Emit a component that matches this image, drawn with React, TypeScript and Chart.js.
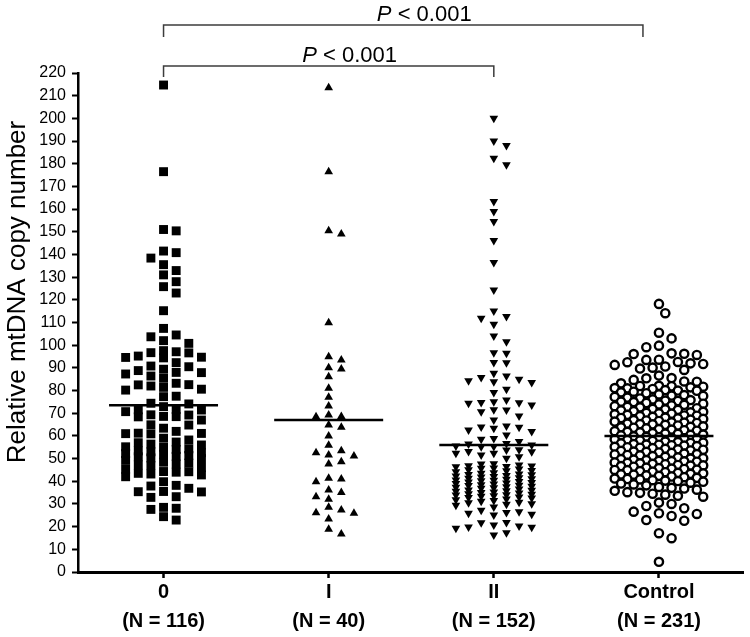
import React, { useEffect, useRef } from "react";
import { Chart, registerables } from "chart.js";
Chart.register(...registerables);

// ---------- data ----------
const categories = ["0", "I", "II", "Control"];
const groupSizes = ["(N = 116)", "(N = 40)", "(N = 152)", "(N = 231)"];
const yTitle = "Relative mtDNA copy number";
const medians = [73.5, 67.0, 56.0, 60.0];
const bracketFrom = [0, 0];
const bracketTo = [2, 3];
const bracketText = ["P < 0.001", "P < 0.001"];

const group0 = [
  214.7, 176.5, 151.0, 150.4, 141.5, 140.8, 138.4, 135.5, 132.9, 131.0, 128.0, 125.8, 123.0, 115.2, 107.4, 104.5, 103.7, 102.0, 100.8,
  97.6, 97.1, 96.7, 96.6, 95.2, 94.6, 94.7, 94.4, 92.3,
  90.8, 90.5, 89.4, 88.8, 87.9, 88.0, 87.3, 86.4, 85.4,
  83.2, 82.5, 82.6, 82.0, 81.4, 80.6, 80.2, 77.3, 77.5,
  74.4, 74.1, 72.9, 71.7, 71.4, 71.5, 70.7,
  69.2, 69.3, 68.5, 68.6, 68.4,
  67.0, 64.8, 64.9, 63.4, 62.0, 61.1, 61.0, 61.2, 60.9, 59.0,
  58.2, 57.3, 57.0, 56.4, 56.0, 55.2, 55.0, 54.3, 54.0, 53.4,
  53.0, 52.6, 52.2, 51.9, 51.4, 51.0, 50.8, 50.3, 50.0, 49.2,
  48.4, 48.0, 47.6, 47.2, 46.9, 46.1, 45.3, 44.2, 44.3, 44.0,
  43.5, 43.2, 42.8, 42.0, 39.8, 38.2, 37.9, 36.9, 35.4, 35.5,
  35.3, 33.2, 32.9, 28.5, 28.1, 27.6, 24.4, 22.9,
];

const groupI = [
  213.5, 176.5, 150.5, 149.0, 109.9, 94.9, 93.5, 90.1, 89.5, 86.1,
  81.0, 77.0, 73.2, 69.2, 68.5, 68.6, 64.8, 63.8, 60.0, 55.9,
  53.5, 52.6, 51.6, 51.1, 48.6, 47.6, 41.3, 41.0, 39.8, 36.2,
  35.0, 33.2, 32.1, 28.5, 27.3, 26.1, 25.9, 23.4, 18.8, 16.8,
];

const groupII = [
  200.0, 190.0, 188.0, 182.4, 179.5, 163.3, 158.9, 154.5, 146.1, 136.4, 124.3, 115.1, 112.6, 111.9, 109.2, 104.1, 101.5,
  96.7, 96.4, 92.3, 92.4,
  87.6, 86.4, 85.8, 85.0, 84.3, 83.9, 83.5,
  80.6, 79.1,
  75.8, 75.1, 74.6, 74.7, 74.4, 73.6,
  71.4, 71.5, 70.7, 68.8,
  67.0,
  64.4, 63.8, 63.9, 63.4, 62.6, 61.9,
  60.4, 58.9, 58.5,
  57.5, 56.7, 56.4, 56.0, 55.6, 55.2, 55.3,
  53.8, 53.9, 53.0, 53.1, 52.3, 52.4,
  51.6, 50.8, 50.1,
  47.6, 47.7, 47.2, 46.7, 46.8, 46.4, 46.5, 45.7,
  45.4, 44.7, 45.9, 44.2, 45.1, 44.6,
  43.2, 42.5, 43.8, 42.1, 43.5, 42.9, 43.0, 42.3,
  41.3, 40.6, 41.9, 40.2, 41.6, 40.9, 41.1, 40.4,
  39.2, 38.5, 39.7, 38.1, 39.5, 38.8, 39.0, 38.3, 39.9,
  37.4, 36.6, 37.8, 36.2, 37.1, 36.9, 37.6, 36.0,
  35.3, 34.5, 35.8, 34.1, 35.0, 34.8, 35.6, 34.3,
  33.4, 32.6, 33.9, 32.2, 33.1, 32.8, 33.6,
  31.2, 30.5, 31.8, 30.1, 31.5, 30.8,
  29.4, 28.7, 29.9,
  27.2, 26.6, 26.2, 25.9, 25.5, 25.1, 21.7, 21.8, 20.7, 20.3, 19.7, 19.8, 19.3, 17.3, 16.3,
];

const groupControl = [
  118.2, 114.1, 105.5, 103.0, 99.8, 99.1, 96.4, 96.1, 96.2, 95.7,
  93.5, 93.6, 92.5, 92.6, 92.0, 91.7, 91.3, 90.6, 90.1, 89.7,
  89.1, 86.6, 85.4, 85.5, 84.7, 83.9, 84.0, 83.2, 82.0, 82.1,
  81.7, 81.0, 81.1,
  81.4, 80.2, 81.9, 80.7, 80.0,
  79.5, 78.3, 79.9, 78.8, 79.2, 78.0,
  77.6, 76.1, 77.2, 76.9, 77.8, 76.5,
  75.4, 74.2, 75.8, 74.9, 75.1, 74.5, 75.6,
  73.1, 72.6, 73.7, 72.2, 73.9, 72.8, 73.4,
  71.5, 70.4, 71.9, 70.9, 71.2, 70.1, 71.7, 70.6,
  69.3, 68.4, 69.8, 68.1, 69.0, 68.7, 69.5, 68.9, 69.9,
  67.2, 66.3, 67.9, 66.8, 67.5, 66.0, 67.0, 66.6, 67.7,
  65.1, 64.6, 65.9, 64.2, 65.4, 64.9, 65.7, 64.0, 65.2,
  63.3, 62.5, 63.8, 62.1, 63.0, 62.8, 63.6, 62.3,
  61.2, 60.6, 61.8, 60.2, 61.5, 60.9, 61.0, 60.4,
  59.4, 58.2, 59.8, 58.7, 59.1, 58.5, 59.6, 58.0, 59.0,
  57.3, 56.4, 57.8, 56.1, 57.0, 56.7, 57.5, 56.9, 56.2,
  55.2, 54.6, 55.7, 54.1, 55.0, 54.8, 55.5, 54.3, 55.9,
  53.4, 52.2, 53.9, 52.7, 53.1, 52.5, 53.6, 52.0, 53.0,
  51.1, 50.5, 51.8, 50.2, 51.4, 50.8, 51.6, 50.0,
  49.3, 48.6, 49.7, 48.1, 49.0, 48.9, 49.5, 48.3, 48.8,
  47.2, 46.4, 47.9, 46.7, 47.5, 46.0, 47.0, 46.9, 47.7,
  45.1, 44.5, 45.8, 44.2, 45.4, 44.9, 45.6, 44.0, 45.0,
  43.3, 42.6, 43.7, 42.1, 43.0, 42.9, 43.5, 42.4,
  41.2, 40.5, 41.8, 40.1, 41.5, 40.8, 41.0, 40.3,
  39.4, 38.6, 39.8, 38.2, 39.0,
  37.5, 36.8, 37.1, 36.3,
  35.8, 35.2, 34.9, 34.5, 34.1, 33.6, 33.2, 30.6, 30.0, 29.1,
  28.1, 26.6, 25.9, 25.6, 24.7, 22.9, 22.6, 17.1, 14.9, 4.5,
];

// ---------- layout / style constants ----------
const FONT = '"Liberation Sans", Arial, Helvetica, sans-serif';
const PX_PER_X = 166;
const PX_PER_Y = 499 / 220;

function swarm(values: number[], cat: number, stepPx: number, maxSteps: number, sizePx: number) {
  const order = values.map((_, i) => i).sort((a, b) => values[b] - values[a]);
  const placed: { px: number; v: number }[] = [];
  const pts: { x: number; y: number }[] = [];
  const cands: number[] = [0];
  for (let k = 1; k <= maxSteps; k++) cands.push(k, -k);
  for (const i of order) {
    const v = values[i];
    let best = 0;
    let bestD = -1;
    for (const k of cands) {
      const px = k * stepPx;
      let md = Infinity;
      for (const p of placed) {
        const d = Math.hypot(px - p.px, (v - p.v) * PX_PER_Y);
        if (d < md) md = d;
      }
      if (md >= sizePx) {
        best = px;
        bestD = md;
        break;
      }
      if (md > bestD) {
        bestD = md;
        best = px;
      }
    }
    placed.push({ px: best, v });
    pts.push({ x: cat + best / PX_PER_X, y: v });
  }
  return pts;
}

const overlayPlugin = {
  id: "overlay",
  afterDraw(chart: any) {
    const { ctx, scales } = chart;
    const x = scales.x;
    ctx.save();
    // y axis title
    ctx.save();
    ctx.translate(18, 292);
    ctx.rotate(-Math.PI / 2);
    ctx.font = `26px ${FONT}`;
    ctx.fillStyle = "#000";
    ctx.textAlign = "center";
    ctx.textBaseline = "middle";
    ctx.fillText(yTitle, 0, 0);
    ctx.restore();

    // significance brackets
    const levelY = [66, 25];
    const dropY = [77, 37];
    const endShift = [0, -16];
    const textShift = [21, 21];
    ctx.strokeStyle = "#3c3c3c";
    ctx.lineWidth = 1.5;
    for (let i = 0; i < bracketFrom.length; i++) {
      const x1 = x.getPixelForValue(bracketFrom[i]);
      const x2 = x.getPixelForValue(bracketTo[i]) + endShift[i];
      ctx.beginPath();
      ctx.moveTo(x1, dropY[i]);
      ctx.lineTo(x1, levelY[i]);
      ctx.lineTo(x2, levelY[i]);
      ctx.lineTo(x2, dropY[i]);
      ctx.stroke();
      const label = bracketText[i];
      const first = label.slice(0, 1);
      const rest = label.slice(1);
      ctx.font = `italic 22px ${FONT}`;
      const w1 = ctx.measureText(first).width;
      ctx.font = `22px ${FONT}`;
      const w2 = ctx.measureText(rest).width;
      const cx = (x1 + x2) / 2 + textShift[i];
      const sx = cx - (w1 + w2) / 2;
      ctx.fillStyle = "#000";
      ctx.textBaseline = "alphabetic";
      ctx.textAlign = "left";
      ctx.font = `italic 22px ${FONT}`;
      ctx.fillText(first, sx, levelY[i] - 4);
      ctx.font = `22px ${FONT}`;
      ctx.fillText(rest, sx + w1, levelY[i] - 4);
    }
    ctx.restore();
  },
};

export default function App() {
  const ref = useRef<HTMLCanvasElement | null>(null);
  useEffect(() => {
    document.body.style.margin = "0";
    const canvas = ref.current;
    if (!canvas) return;
    const p0 = swarm(group0, 0, 12.7, 3, 9);
    const p1 = swarm(groupI, 1, 12.7, 3, 8);
    const p2 = swarm(groupII, 2, 12.7, 3, 8);
    const p3 = swarm(groupControl, 3, 6.35, 7, 10);
    const medianSets = medians.map((m, i) => ({
      type: "line" as const,
      data: [
        { x: i - 0.33, y: m },
        { x: i + 0.33, y: m },
      ],
      borderColor: "#000",
      borderWidth: 2.5,
      pointRadius: 0,
      showLine: true,
      order: 0,
      clip: false as any,
    }));
    const chart = new Chart(canvas, {
      type: "scatter",
      data: {
        datasets: [
          { data: p0, pointStyle: "rect", pointRadius: 6.3, backgroundColor: "#000", borderColor: "#000", borderWidth: 0, order: 1, clip: false as any },
          { data: p1, pointStyle: "triangle", pointRadius: 5.0, backgroundColor: "#000", borderColor: "#000", borderWidth: 0, order: 1, clip: false as any },
          { data: p2, pointStyle: "triangle", rotation: 180, pointRadius: 5.0, backgroundColor: "#000", borderColor: "#000", borderWidth: 0, order: 1, clip: false as any } as any,
          { data: p3, pointStyle: "circle", pointRadius: 4.1, backgroundColor: "#fff", borderColor: "#000", borderWidth: 2.4, order: 1, clip: false as any },
          ...medianSets,
        ] as any,
      },
      options: {
        responsive: false,
        animation: false,
        events: [],
        layout: { padding: { top: 73, right: 3, left: 0, bottom: 0 } },
        plugins: { legend: { display: false }, tooltip: { enabled: false } },
        scales: {
          x: {
            type: "linear",
            min: -0.518,
            max: 3.512,
            afterBuildTicks: (s: any) => {
              s.ticks = [0, 1, 2, 3].map((v) => ({ value: v }));
            },
            afterFit: (s: any) => {
              s.height = 65;
            },
            ticks: {
              autoSkip: false,
              maxRotation: 0,
              padding: 0,
              color: "#000",
              font: { family: FONT, size: 20, weight: "bold", lineHeight: 1.45 },
              callback: (v: any) => {
                const i = Math.round(Number(v));
                return [categories[i], groupSizes[i]];
              },
            },
            grid: { drawOnChartArea: false, drawTicks: true, tickLength: 6, tickWidth: 2.5, tickColor: "#000" },
            border: { color: "#000", width: 3 },
          },
          y: {
            type: "linear",
            min: 0,
            max: 220,
            afterFit: (s: any) => {
              s.width = 78;
            },
            ticks: {
              stepSize: 10,
              padding: 6,
              color: "#000",
              font: { family: FONT, size: 16 },
            },
            grid: { drawOnChartArea: false, drawTicks: true, tickLength: 6, tickWidth: 2, tickColor: "#000" },
            border: { color: "#000", width: 2.5 },
          },
        },
      } as any,
      plugins: [overlayPlugin],
    });
    return () => chart.destroy();
  }, []);
  return (
    <div style={{ position: "absolute", left: 0, top: 0, width: 750, height: 637, background: "#fff" }}>
      <canvas ref={ref} width={750} height={637} style={{ display: "block" }} />
    </div>
  );
}
